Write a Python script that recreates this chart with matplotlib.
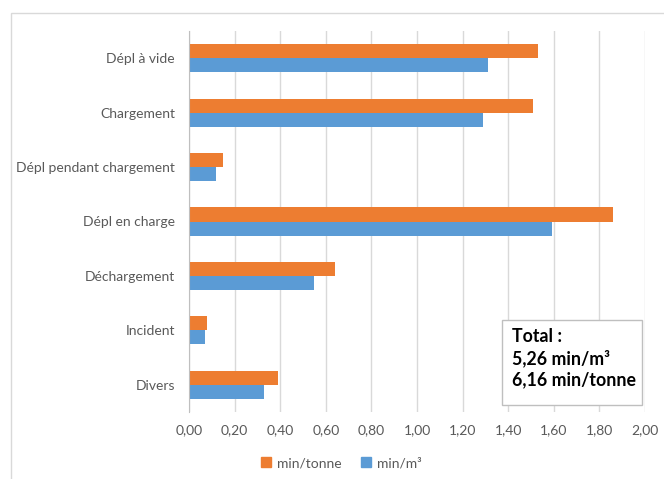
import numpy as np
import matplotlib
matplotlib.use("Agg")
import matplotlib.pyplot as plt
from matplotlib.patches import Rectangle, Patch

plt.rcParams['font.family'] = ['Lato', 'DejaVu Sans']

categories = ['Dépl à vide', 'Chargement', 'Dépl pendant chargement', 'Dépl en charge',
              'Déchargement', 'Incident', 'Divers']
min_tonne = [1.53, 1.51, 0.15, 1.86, 0.64, 0.08, 0.39]
min_m3 = [1.31, 1.29, 0.12, 1.59, 0.55, 0.07, 0.33]
xticks = np.arange(0, 2.01, 0.2)
total_lines = ['Total :', '5,26 min/m³', '6,16 min/tonne']

orange = '#ED7D31'
blue = '#5B9BD5'
grey_txt = '#595959'
grid_col = '#d9d9d9'

W, H = 664, 479
fig = plt.figure(figsize=(W / 100, H / 100), dpi=100)
ax = fig.add_axes([189 / W, 1 - 412 / H, 456 / W, 381 / H])

# cadre du graphique
fig.patches.append(Rectangle((11 / W, -0.1), 1.2, 1.1 - 13 / H, transform=fig.transFigure,
                             fill=False, edgecolor=grid_col, linewidth=1.0))

pos = np.arange(len(categories))
h = 0.258
ax.barh(pos - h / 2, min_tonne, height=h, color=orange, zorder=3)
ax.barh(pos + h / 2, min_m3, height=h, color=blue, zorder=3)

ax.set_ylim(len(categories) - 0.5, -0.5)
ax.set_xlim(0, 2.0)
ax.set_yticks(pos)
ax.set_yticklabels(categories)
ax.set_xticks(xticks)
ax.set_xticklabels([f'{v:.2f}'.replace('.', ',') for v in xticks])
ax.tick_params(axis='y', length=0, pad=10, labelsize=10, labelcolor=grey_txt)
ax.tick_params(axis='x', length=0, pad=9, labelsize=10, labelcolor=grey_txt)
ax.grid(axis='x', color=grid_col, linewidth=1.0, zorder=0)
for s in ['top', 'right', 'bottom']:
    ax.spines[s].set_visible(False)
ax.spines['left'].set_color('#bfbfbf')
ax.spines['left'].set_zorder(4)

# encadré des totaux
fig.patches.append(Rectangle((502 / W, 1 - 405 / H), 140 / W, 85 / H, transform=fig.transFigure,
                             facecolor='white', edgecolor='#bfbfbf', linewidth=1.0, zorder=5))
for i, line in enumerate(total_lines):
    fig.text(512 / W, 1 - (337 + 21.5 * i) / H, line, fontsize=12.8, fontweight='bold',
             color='black', va='center', ha='left', zorder=6)

handles = [Patch(color=orange, label='min/tonne'), Patch(color=blue, label='min/m³')]
fig.legend(handles=handles, loc='center', bbox_to_anchor=(341 / W, 1 - 463 / H), ncol=2,
           frameon=False, fontsize=10, labelcolor=grey_txt, handlelength=0.75, handleheight=0.75,
           handletextpad=0.4, columnspacing=1.4)

fig.savefig('out.png', dpi=100)
